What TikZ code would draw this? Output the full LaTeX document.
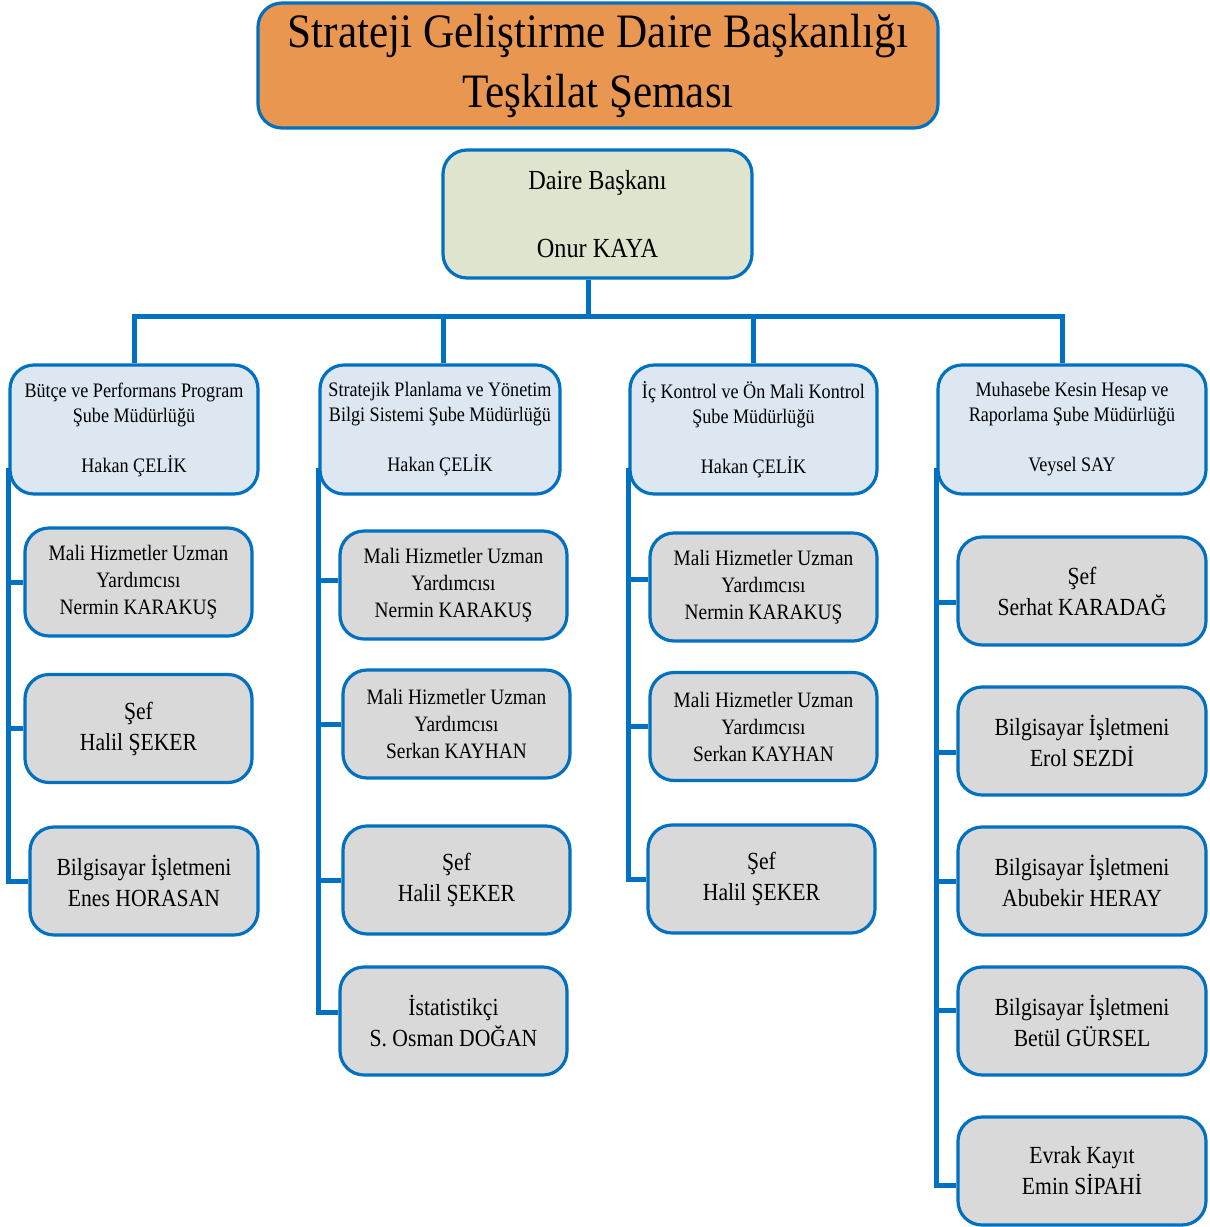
\documentclass[tikz,border=0pt]{standalone}
\usepackage{fontspec}
\setmainfont{Liberation Serif}[FakeStretch=0.88]
\newfontfamily\titlefont{Liberation Serif}[FakeStretch=0.9]
\usetikzlibrary{backgrounds}
\definecolor{kenar}{HTML}{0070C0}
\definecolor{turuncu}{HTML}{E99650}
\definecolor{yesil}{HTML}{DEE4CD}
\definecolor{mavi}{HTML}{DCE7F2}
\definecolor{gri}{HTML}{D9D9D9}

\begin{document}
\begin{tikzpicture}[x=0.5pt, y=-0.5pt,
    kutu/.style={draw=kenar, line width=1.6pt, rounded corners=12pt, align=center, inner sep=0pt},
    baslik/.style={kutu, fill=turuncu, minimum width=340pt, minimum height=62.5pt, font=\titlefont\fontsize{24}{30}\selectfont},
    baskan/.style={kutu, fill=yesil, minimum width=154.5pt, minimum height=64pt, font=\fontsize{13.8}{17}\selectfont},
    sube/.style={kutu, fill=mavi, minimum height=64.5pt, font=\fontsize{10.3}{12.5}\selectfont},
    personel/.style={kutu, fill=gri, minimum width=113.5pt, minimum height=54pt, font=\fontsize{12.3}{15.5}\selectfont},
    uzman/.style={personel, font=\fontsize{11}{13.5}\selectfont},
    hat/.style={draw=kenar, line width=2.5pt}]
    \useasboundingbox (0,0) rectangle (1210,1227);

    \node[baslik] (baslik) at (598,65.5) {Strateji Geliştirme Daire Başkanlığı\\Teşkilat Şeması};
    \node[baskan] (baskan) at (597.5,214) {Daire Başkanı\\[17pt]Onur KAYA};

    \node[sube, minimum width=124pt] (sube1) at (134,429.5) {Bütçe ve Performans Program\\Şube Müdürlüğü\\[12.5pt]Hakan ÇELİK};
    \node[sube, minimum width=120pt] (sube2) at (440,429.5) {Stratejik Planlama ve Yönetim\\Bilgi Sistemi Şube Müdürlüğü\\[12.5pt]Hakan ÇELİK};
    \node[sube, minimum width=123.5pt] (sube3) at (753.5,429.5) {İç Kontrol ve Ön Mali Kontrol\\Şube Müdürlüğü\\[12.5pt]Hakan ÇELİK};
    \node[sube, minimum width=134pt] (sube4) at (1072,429.5) {Muhasebe Kesin Hesap ve\\Raporlama Şube Müdürlüğü\\[12.5pt]Veysel SAY};

    \node[uzman] (b1a) at (138.5,582) {Mali Hizmetler Uzman\\Yardımcısı\\Nermin KARAKUŞ};
    \node[personel] (b1b) at (138.5,728.5) {Şef\\Halil ŞEKER};
    \node[personel, minimum width=114pt] (b1c) at (144,881) {Bilgisayar İşletmeni\\Enes HORASAN};

    \node[uzman] (b2a) at (453.5,585) {Mali Hizmetler Uzman\\Yardımcısı\\Nermin KARAKUŞ};
    \node[uzman] (b2b) at (456.5,724) {Mali Hizmetler Uzman\\Yardımcısı\\Serkan KAYHAN};
    \node[personel] (b2c) at (456.5,880) {Şef\\Halil ŞEKER};
    \node[personel] (b2d) at (453.5,1021) {İstatistikçi\\S. Osman DOĞAN};

    \node[uzman] (b3a) at (763.5,587) {Mali Hizmetler Uzman\\Yardımcısı\\Nermin KARAKUŞ};
    \node[uzman] (b3b) at (763.5,726.5) {Mali Hizmetler Uzman\\Yardımcısı\\Serkan KAYHAN};
    \node[personel] (b3c) at (761.5,879) {Şef\\Halil ŞEKER};

    \node[personel, minimum width=124pt] (b4a) at (1082,591) {Şef\\Serhat KARADAĞ};
    \node[personel, minimum width=124pt] (b4b) at (1082,741) {Bilgisayar İşletmeni\\Erol SEZDİ};
    \node[personel, minimum width=124pt] (b4c) at (1082,881) {Bilgisayar İşletmeni\\Abubekir HERAY};
    \node[personel, minimum width=124pt] (b4d) at (1082,1021) {Bilgisayar İşletmeni\\Betül GÜRSEL};
    \node[personel, minimum width=124pt] (b4e) at (1082,1171) {Evrak Kayıt\\Emin SİPAHİ};

    % baglanti cizgileri
    \begin{scope}[on background layer]
        \coordinate (yatay) at (0,316);
        \draw[hat] ([xshift=-4.75pt]baskan.south) -- ([xshift=-4.75pt]baskan.south |- yatay);
        \draw[hat] (sube1.north) |- ([xshift=-5pt]sube4.north |- yatay) -- ([xshift=-5pt]sube4.north);
        \draw[hat] ([xshift=1.5pt]sube2.north) -- ([xshift=1.5pt]sube2.north |- yatay);
        \draw[hat] (sube3.north) -- (sube3.north |- yatay);

        \draw[hat] ([yshift=14pt]sube1.south west) |- (b1c.west);
        \draw[hat] (sube1.south west |- b1a.west) -- (b1a.west);
        \draw[hat] (sube1.south west |- b1b.west) -- (b1b.west);

        \draw[hat] ([yshift=14pt]sube2.south west) |- ([yshift=4.5pt]b2d.west);
        \draw[hat] (sube2.south west |- b2a.west) ++(0,-5) -- ([yshift=2.5pt]b2a.west);
        \draw[hat] (sube2.south west |- b2b.west) -- (b2b.west);
        \draw[hat] (sube2.south west |- b2c.west) -- (b2c.west);

        \draw[hat] ([yshift=14pt]sube3.south west) |- (b3c.west);
        \draw[hat] ([yshift=4pt]sube3.south west |- b3a.west) -- ([yshift=4pt]b3a.west);
        \draw[hat] (sube3.south west |- b3b.west) -- (b3b.west);

        \draw[hat] ([yshift=14pt]sube4.south west) |- ([yshift=-7pt]b4e.west);
        \draw[hat] ([yshift=-5.5pt]sube4.south west |- b4a.west) -- ([yshift=-5.5pt]b4a.west);
        \draw[hat] ([yshift=-5.5pt]sube4.south west |- b4b.west) -- ([yshift=-5.5pt]b4b.west);
        \draw[hat] (sube4.south west |- b4c.west) -- (b4c.west);
        \draw[hat] ([yshift=5.5pt]sube4.south west |- b4d.west) -- ([yshift=5.5pt]b4d.west);
    \end{scope}
\end{tikzpicture}
\end{document}
